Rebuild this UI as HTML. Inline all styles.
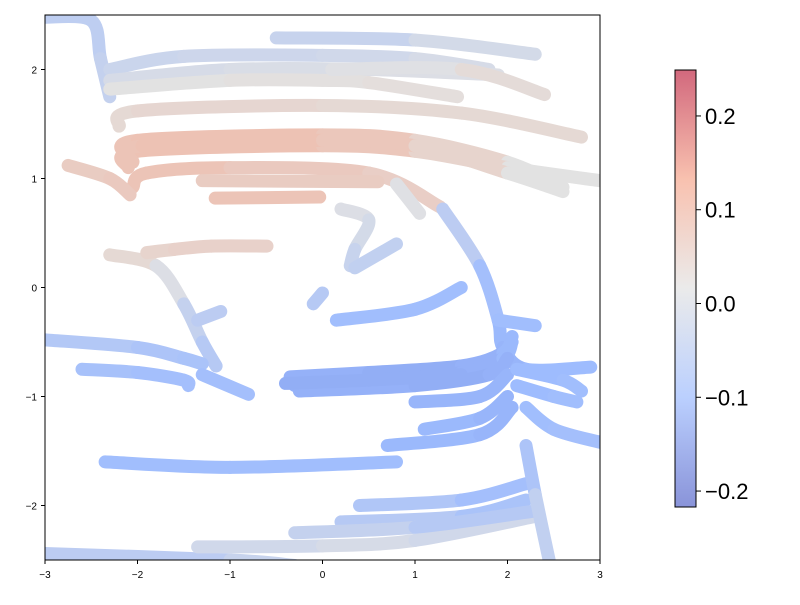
<!DOCTYPE html>
<html><head><meta charset="utf-8"><style>
body{margin:0;background:#fff;font-family:"Liberation Sans",sans-serif}
svg text{font-family:"Liberation Sans",sans-serif}
</style></head><body>
<svg id="c" width="800" height="600" xmlns="http://www.w3.org/2000/svg">
<defs>
<linearGradient id="cbg" x1="0" y1="1" x2="0" y2="0">
<stop offset="0" stop-color="#3b4cc0"/><stop offset="0.25" stop-color="#8db0fe"/><stop offset="0.5" stop-color="#dddddd"/><stop offset="0.75" stop-color="#f4987a"/><stop offset="1" stop-color="#b40426"/>
</linearGradient>
<clipPath id="pc"><rect x="45" y="15" width="555" height="545"/></clipPath>
</defs>
<g id="marks" clip-path="url(#pc)"></g>
<rect x="45" y="15" width="555" height="545" fill="none" stroke="#000" stroke-width="1"/>
<g id="axes"></g>
<rect x="675" y="70" width="21" height="437" fill="url(#cbg)" opacity="0.6"/>
<rect x="675" y="70" width="21" height="437" fill="none" stroke="#000" stroke-width="1"/>
<g id="cbaxis"></g>
</svg>
<script>
const xTicks=[-3,-2,-1,0,1,2,3];
const yTicks=[-2,-1,0,1,2];
const cbTicks=[-0.2,-0.1,0.0,0.1,0.2];
const cbMin=-0.217, cbMax=0.249;
const streamX=[
[-3,-2.5,-2.4,-2.3],
[-0.5,1,2.3],
[-2.3,-1.5,0,1,1.8],
[-2.3,-1,0.5,1.9],
[-2.3,-1,0,0.5,1.46],
[0.1,1.5,2.4],
[-2.2,-2,0,1.5,2.8],
[-2.1,-2,0,1,2,2.6],
[-2.1,-2,0,1,2,3],
[-2.05,-1.95,0,1,2,2.6],
[-2.05,-1.9,-1,0.5,1.27],
[-2.75,-2.3,-2.08],
[-1.16,-0.03],
[-1.3,0.6],
[0.8,1.05],
[-2.3,-1.8,-1.5,-1.3,-1.15],
[-1.9,-1.6,-1.2,-0.6],
[-1.35,-1.1],
[-3,-2,-1.5,-1.3],
[-2.6,-2,-1.5,-1.45],
[-1.3,-0.8],
[-2.35,-1,0.8],
[-3,-1,-0.3],
[-1.35,0,1,2.3],
[0.2,1.5,2.2],
[0.4,1.5,2.2],
[-0.3,1,2.3],
[2.2,2.3,2.45],
[0.2,0.5,0.35,0.3],
[0.35,0.8],
[-0.1,0],
[1.3,1.7,1.9,1.95,2.2,2.9],
[0.15,1,1.5],
[-0.35,0.5,1.5,1.95,2.05],
[-0.3,0.5,1.5,1.95,2.05],
[-0.25,1,1.8,2.0],
[1,1.7,2],
[1.1,1.7,2.0],
[0.7,1.7,2.05],
[2.1,2.5,2.75],
[2.2,2.5,3],
[2.1,2.6,2.8],
[1.9,2.3],
[-0.4,0.5,1.5]
];
const streamY=[
[2.48,2.45,2.1,1.75],
[2.29,2.27,2.14],
[2.0,2.12,2.13,2.1,2.0],
[1.9,2.0,2.0,1.95],
[1.82,1.9,1.9,1.88,1.75],
[2.0,2.0,1.77],
[1.48,1.62,1.67,1.6,1.38],
[1.2,1.35,1.4,1.35,1.15,0.92],
[1.1,1.25,1.3,1.25,1.1,0.98],
[1.15,1.3,1.35,1.3,1.05,0.88],
[0.92,1.05,1.1,1.05,0.74],
[1.12,1.0,0.85],
[0.82,0.83],
[0.98,0.97],
[0.95,0.68],
[0.3,0.2,-0.15,-0.5,-0.72],
[0.32,0.35,0.38,0.38],
[-0.3,-0.22],
[-0.48,-0.55,-0.65,-0.7],
[-0.75,-0.78,-0.85,-0.9],
[-0.8,-0.98],
[-1.6,-1.65,-1.6],
[-2.44,-2.5,-2.55],
[-2.38,-2.37,-2.32,-2.1],
[-2.15,-2.1,-1.95],
[-2.0,-1.95,-1.8],
[-2.25,-2.2,-2.05],
[-1.45,-1.9,-2.5],
[0.72,0.62,0.35,0.2],
[0.18,0.4],
[-0.15,-0.05],
[0.72,0.2,-0.3,-0.55,-0.75,-0.73],
[-0.3,-0.2,-0.0],
[-0.82,-0.78,-0.72,-0.6,-0.45],
[-0.9,-0.85,-0.78,-0.65,-0.5],
[-0.95,-0.9,-0.8,-0.65],
[-1.05,-1.0,-0.8],
[-1.3,-1.2,-1.0],
[-1.45,-1.35,-1.1],
[-0.9,-1.0,-1.05],
[-1.1,-1.3,-1.42],
[-0.75,-0.85,-0.95],
[-0.3,-0.35],
[-0.88,-0.85,-0.8]
];
const streamV=[
[-0.04,-0.05,-0.04,-0.03],
[-0.04,-0.02,0.0],
[-0.03,-0.02,-0.02,-0.01,0.0],
[-0.01,0.0,0.0,0.01],
[0.01,0.02,0.02,0.02,0.03],
[0.0,0.02,0.04],
[0.03,0.04,0.04,0.03,0.04],
[0.07,0.08,0.08,0.06,0.03,0.0],
[0.07,0.08,0.08,0.06,0.03,0.0],
[0.07,0.08,0.08,0.06,0.03,0.0],
[0.07,0.08,0.07,0.06,0.05],
[0.06,0.06,0.07],
[0.08,0.07],
[0.07,0.05],
[0.02,0.0],
[0.04,0.03,-0.02,-0.05,-0.07],
[0.04,0.05,0.05,0.05],
[-0.05,-0.05],
[-0.06,-0.07,-0.08,-0.08],
[-0.08,-0.09,-0.09,-0.09],
[-0.09,-0.09],
[-0.09,-0.1,-0.09],
[-0.06,-0.04,-0.02],
[-0.02,-0.01,0.0,-0.03],
[-0.05,-0.07,-0.09],
[-0.06,-0.08,-0.1],
[-0.02,-0.05,-0.07],
[-0.09,-0.06,-0.02],
[0.01,0.0,-0.02,-0.04],
[-0.04,-0.04],
[-0.06,-0.06],
[-0.02,-0.08,-0.1,-0.11,-0.11,-0.09],
[-0.09,-0.1,-0.09],
[-0.11,-0.12,-0.12,-0.11,-0.1],
[-0.11,-0.12,-0.12,-0.11,-0.1],
[-0.11,-0.12,-0.12,-0.11],
[-0.11,-0.11,-0.11],
[-0.1,-0.11,-0.11],
[-0.1,-0.11,-0.11],
[-0.1,-0.1,-0.09],
[-0.1,-0.09,-0.09],
[-0.1,-0.1,-0.09],
[-0.1,-0.09],
[-0.12,-0.12,-0.12]
];
const NS="http://www.w3.org/2000/svg";
const sx=v=>45+(v+3)*92.5, sy=v=>287.5-v*109;
const cby=v=>70+(cbMax-v)/(cbMax-cbMin)*437;
const anchors=[[59,76,192],[141,176,254],[221,221,221],[244,152,122],[180,4,38]];
function color(v){
 let t=Math.max(0,Math.min(1,(v-cbMin)/(cbMax-cbMin)))*4;
 let i=Math.min(3,Math.floor(t)),f=t-i;
 const c=anchors[i].map((a,k)=>a+(anchors[i+1][k]-a)*f).map(a=>Math.round(0.85*a+0.15*255));
 return `rgb(${c[0]},${c[1]},${c[2]})`;
}
const marks=document.getElementById('marks');
streamX.forEach((xs,s)=>{
 const g=document.createElementNS(NS,'g');
 
 
 const P=xs.map((x,i)=>[sx(x),sy(streamY[s][i])]);
 for(let i=0;i<P.length-1;i++){
  const p0=P[Math.max(0,i-1)],p1=P[i],p2=P[i+1],p3=P[Math.min(P.length-1,i+2)];
  const c1=[p1[0]+(p2[0]-p0[0])/6,p1[1]+(p2[1]-p0[1])/6];
  const c2=[p2[0]-(p3[0]-p1[0])/6,p2[1]-(p3[1]-p1[1])/6];
  const l=document.createElementNS(NS,'path');
  l.setAttribute('d',`M${p1[0]},${p1[1]}C${c1[0]},${c1[1]} ${c2[0]},${c2[1]} ${p2[0]},${p2[1]}`);
  l.setAttribute('fill','none');
  l.setAttribute('stroke',color((streamV[s][i]+streamV[s][i+1])/2));
  l.setAttribute('stroke-width','13');l.setAttribute('stroke-linecap','round');
  
  
  g.appendChild(l);
 }
 marks.appendChild(g);
});
const axes=document.getElementById('axes');
function txt(parent,x,y,s,size,anchor,name){
 const t=document.createElementNS(NS,'text');
 t.setAttribute('x',x);t.setAttribute('y',y);t.setAttribute('font-size',size);t.setAttribute('text-anchor',anchor);
 t.textContent=s;
 
 
 parent.appendChild(t);
}
function tick(parent,x1,y1,x2,y2){
 const l=document.createElementNS(NS,'line');
 l.setAttribute('x1',x1);l.setAttribute('y1',y1);l.setAttribute('x2',x2);l.setAttribute('y2',y2);l.setAttribute('stroke','#000');
 
 
 parent.appendChild(l);
}
const fmt=v=>(v<0?'\u2212':'')+Math.abs(v);
const fmt1=v=>(v<0?'\u2212':'')+Math.abs(v).toFixed(1);
xTicks.forEach(v=>{tick(axes,sx(v),560,sx(v),564);txt(axes,sx(v),578,fmt(v),10,'middle','x-tick-label');});
yTicks.forEach(v=>{tick(axes,41,sy(v),45,sy(v));txt(axes,37,sy(v)+4,fmt(v),10,'end','y-tick-label');});
const cb=document.getElementById('cbaxis');
cbTicks.forEach(v=>{tick(cb,696,cby(v),701,cby(v));txt(cb,705,cby(v)+8,fmt1(v),22,'start','colorbar-tick-label');});
</script>
</body></html>
